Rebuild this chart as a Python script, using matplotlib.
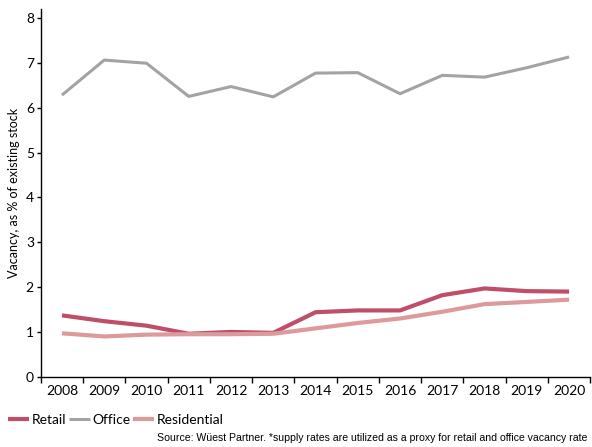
import numpy as np
import matplotlib
matplotlib.use('Agg')
import matplotlib.pyplot as plt

plt.rcParams['font.family'] = ['Lato', 'DejaVu Sans']

years = [2008, 2009, 2010, 2011, 2012, 2013, 2014, 2015, 2016, 2017, 2018, 2019, 2020]
retail = [1.37, 1.24, 1.14, 0.96, 1.00, 0.98, 1.44, 1.48, 1.48, 1.82, 1.97, 1.91, 1.90]
office = [6.28, 7.06, 6.99, 6.25, 6.47, 6.24, 6.77, 6.78, 6.31, 6.72, 6.68, 6.89, 7.13]
residential = [0.97, 0.90, 0.94, 0.95, 0.95, 0.96, 1.08, 1.20, 1.30, 1.45, 1.62, 1.67, 1.72]

c_retail = '#bf4f68'
c_office = '#a3a3a3'
c_resid = '#dc9a9a'

fig = plt.figure(figsize=(5.92, 4.47), dpi=100)
ax = fig.add_axes([0.069, 0.157, 0.928, 0.823])

x = np.arange(len(years))
ax.plot(x, retail, color=c_retail, lw=3, label='Retail', solid_capstyle='butt')
ax.plot(x, office, color=c_office, lw=2.2, label='Office', solid_capstyle='butt')
ax.plot(x, residential, color=c_resid, lw=3, label='Residential', solid_capstyle='butt')

ax.set_xlim(-0.5, 12.5)
ax.set_ylim(0, 8.2)
ax.set_yticks(range(0, 9))
ax.set_xticks(x)
ax.set_xticklabels([str(y) for y in years])
ax.set_xticks(np.arange(-0.5, 12.6, 1), minor=True)
ax.tick_params(axis='x', which='major', length=0, labelsize=10, pad=6)
ax.tick_params(axis='x', which='minor', length=4, width=1)
ax.tick_params(axis='y', length=3, width=1, labelsize=10, pad=2)

for s in ['top', 'right']:
    ax.spines[s].set_visible(False)
for s in ['left', 'bottom']:
    ax.spines[s].set_linewidth(1)

ax.set_ylabel('Vacancy, as % of existing stock', fontsize=9, labelpad=4)

ax.legend(loc='upper left', bbox_to_anchor=(-0.07, -0.085), ncol=3, frameon=False,
          fontsize=10, handlelength=1.5, handletextpad=0.2, columnspacing=0.2,
          borderaxespad=0)

fig.text(0.993, 0.008, 'Source: Wüest Partner. *supply rates are utilized as a proxy for retail and office vacancy rate',
         ha='right', va='bottom', fontsize=7.6, family=['Liberation Sans', 'DejaVu Sans'])

fig.savefig('out.png', dpi=100)
